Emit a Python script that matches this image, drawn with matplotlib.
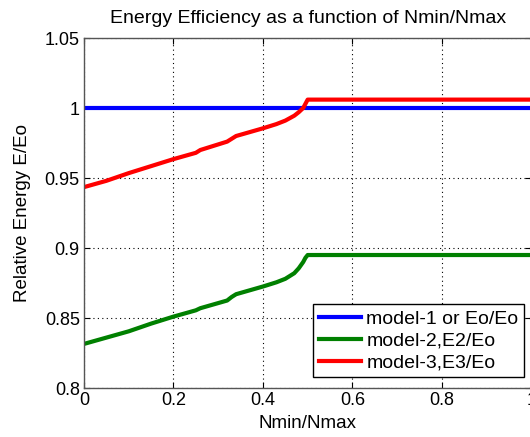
"""Energy efficiency vs Nmin/Nmax for the three models
"""
import matplotlib
matplotlib.use('Agg')
import matplotlib.pyplot as plt

from typing import List

# Nmin/Nmax sample points
ratio: List[float] = [0, 0.05, 0.1, 0.15, 0.2, 0.25, 0.26, 0.32, 0.33, 0.34,
                      0.4, 0.43, 0.45, 0.47, 0.48, 0.49, 0.495, 0.5, 1.0]

model_1: List[float] = [1.0] * len(ratio)

model_2: List[float] = [0.8315, 0.836, 0.8405, 0.846, 0.851, 0.8555, 0.857,
                        0.8625, 0.865, 0.867, 0.8725, 0.8755, 0.878, 0.882,
                        0.8855, 0.890, 0.893, 0.895, 0.895]

model_3: List[float] = [0.9435, 0.948, 0.9535, 0.9585, 0.9635, 0.968, 0.970,
                        0.976, 0.978, 0.980, 0.9855, 0.9885, 0.991, 0.9945,
                        0.997, 1.000, 1.003, 1.006, 1.006]

x_ticks: List[float] = [0, 0.2, 0.4, 0.6, 0.8, 1.0]
x_labels: List[str] = ['0', '0.2', '0.4', '0.6', '0.8', '1']
y_ticks: List[float] = [0.8, 0.85, 0.9, 0.95, 1.0, 1.05]
y_labels: List[str] = ['0.8', '0.85', '0.9', '0.95', '1', '1.05']

plt.rcParams['font.family'] = ['Liberation Sans', 'DejaVu Sans']

fig = plt.figure(figsize=(5.30, 4.37), dpi=100)
ax = fig.add_axes([0.1585, 0.1121, 0.844, 0.8009])

ax.plot(ratio, model_1, color='#0000ff', lw=3, label='model-1 or Eo/Eo')
ax.plot(ratio, model_2, color='#008000', lw=3, label='model-2,E2/Eo')
ax.plot(ratio, model_3, color='#ff0000', lw=3, label='model-3,E3/Eo')

ax.set_xlim(0, 1)
ax.set_ylim(0.8, 1.05)
ax.set_xticks(x_ticks)
ax.set_xticklabels(x_labels)
ax.set_yticks(y_ticks)
ax.set_yticklabels(y_labels)
ax.tick_params(direction='in', labelsize=13, length=4, width=0.8,
               top=True, right=True, colors='black', pad=3)
ax.grid(True, linestyle=(0, (1, 3)), color='black', linewidth=0.8)

for spine in ax.spines.values():
    spine.set_color('#555555')
    spine.set_linewidth(1.0)

ax.set_title('Energy Efficiency as a function of Nmin/Nmax', fontsize=14, pad=11)
ax.set_xlabel('Nmin/Nmax', fontsize=13.5, labelpad=4)
ax.set_ylabel('Relative Energy E/Eo', fontsize=13.5, labelpad=10)

# Legend pinned to the lower right corner, like the original
leg = ax.legend(loc='lower right', bbox_to_anchor=(0.984, 0.031),
                borderaxespad=0, fontsize=14, fancybox=False,
                framealpha=1, edgecolor='black', handlelength=2.2,
                labelspacing=0.22, handletextpad=0.25, borderpad=0.3)
leg.get_frame().set_linewidth(1.0)

fig.savefig('out.png', dpi=100)
